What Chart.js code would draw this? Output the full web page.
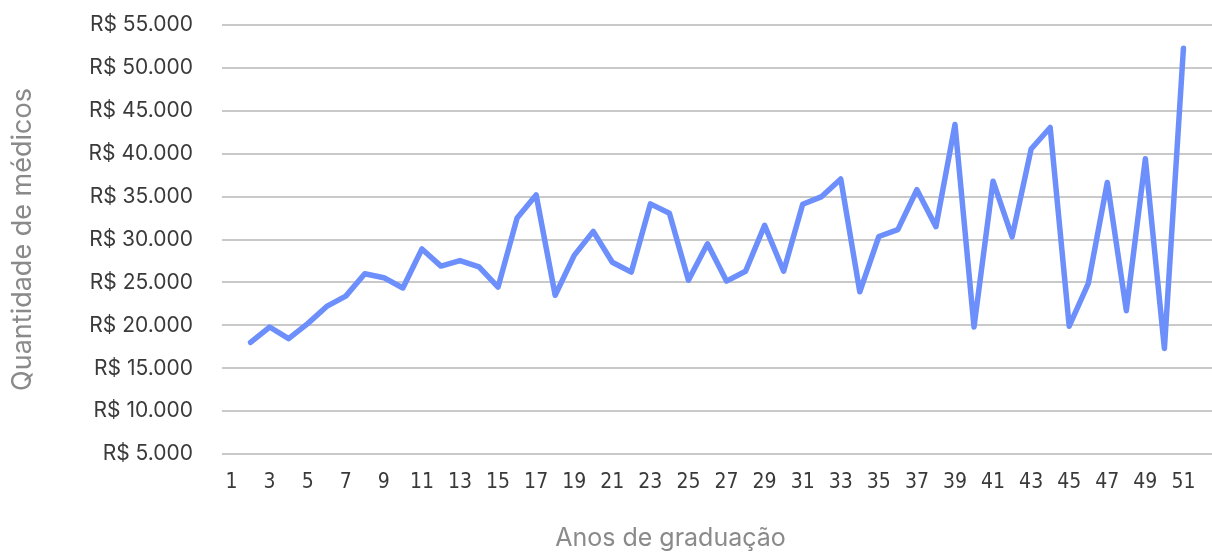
<!DOCTYPE html>
<html>
<head>
<meta charset="utf-8">
<script src="https://cdn.jsdelivr.net/npm/chart.js@4/dist/chart.umd.min.js"></script>
<style>
  html, body { margin: 0; padding: 0; background: #ffffff; }
  #wrap { width: 1212px; height: 553px; position: relative; }
</style>
</head>
<body>
<div id="wrap"><canvas id="c" width="1212" height="553"></canvas></div>
<script>
// Anos de graduação (1..52)
const anos = [];
for (let i = 1; i <= 52; i++) anos.push(String(i));

// Renda média por ano de graduação (R$)
const renda = [
  null, 18000, 19800, 18450, 20200, 22200, 23400, 26000, 25550, 24350,
  28900, 26900, 27550, 26800, 24450, 32500, 35200, 23500, 28150, 30950,
  27350, 26200, 34150, 33050, 25250, 29500, 25150, 26300, 31650, 26300,
  34100, 35000, 37050, 23900, 30350, 31150, 35800, 31500, 43400, 19800,
  36800, 30300, 40550, 43050, 19900, 24850, 36650, 21700, 39400, 17300,
  52300, null
];

const yMin = 5000, yMax = 55000, yStep = 5000;
const xTitle = 'Anos de graduação';
const yTitle = 'Quantidade de médicos';

const fmtBRL = v => 'R$ ' + String(v).replace(/\B(?=(\d{3})+(?!\d))/g, '.');
const baseFont = "Inter, 'Noto Sans', sans-serif";
const narrowFont = "'Liberation Sans Narrow', 'DejaVu Sans Condensed', Inter, sans-serif";

// x-axis caption, drawn under the tick labels
const xCaption = {
  id: 'xCaption',
  afterDraw(chart) {
    const { ctx, chartArea } = chart;
    ctx.save();
    ctx.font = '25px ' + baseFont;
    ctx.fillStyle = '#8a8a8a';
    ctx.textAlign = 'center';
    ctx.textBaseline = 'alphabetic';
    const cx = chartArea.left + (chartArea.right - chartArea.left) * 0.453;
    ctx.fillText(xTitle, cx, chartArea.bottom + 92);
    ctx.restore();
  }
};

new Chart(document.getElementById('c'), {
  type: 'line',
  data: {
    labels: anos,
    datasets: [{
      data: renda,
      borderColor: '#6d8ffb',
      borderWidth: 5.5,
      tension: 0,
      pointRadius: 0,
      borderCapStyle: 'round',
      borderJoinStyle: 'round',
      fill: false
    }]
  },
  plugins: [xCaption],
  options: {
    responsive: false,
    animation: false,
    plugins: { legend: { display: false }, tooltip: { enabled: false } },
    layout: { padding: { top: 25, right: 0, bottom: 0, left: 0 } },
    scales: {
      x: {
        offset: true,
        grid: { display: false, drawTicks: false },
        border: { display: false },
        ticks: {
          autoSkip: false,
          maxRotation: 0,
          padding: 16,
          color: '#3a3a3a',
          font: { family: narrowFont, size: 21 },
          callback: function (v, i) { return (i % 2 === 0) ? this.getLabelForValue(v) : ''; }
        },
        afterFit: s => { s.height = 99; s.paddingLeft = 0; s.paddingRight = 0; }
      },
      y: {
        min: yMin,
        max: yMax,
        grid: { color: '#c9c9c9', lineWidth: 2, drawTicks: false },
        border: { display: false },
        ticks: {
          stepSize: yStep,
          padding: 29,
          color: '#3a3a3a',
          font: { family: baseFont, size: 21 },
          callback: v => fmtBRL(v)
        },
        title: {
          display: true,
          text: yTitle,
          color: '#8a8a8a',
          font: { family: baseFont, size: 27 },
          padding: { top: 7, bottom: 0 }
        },
        afterFit: s => { s.width = 222; s.paddingTop = 0; s.paddingBottom = 0; }
      }
    }
  }
});
</script>
</body>
</html>
